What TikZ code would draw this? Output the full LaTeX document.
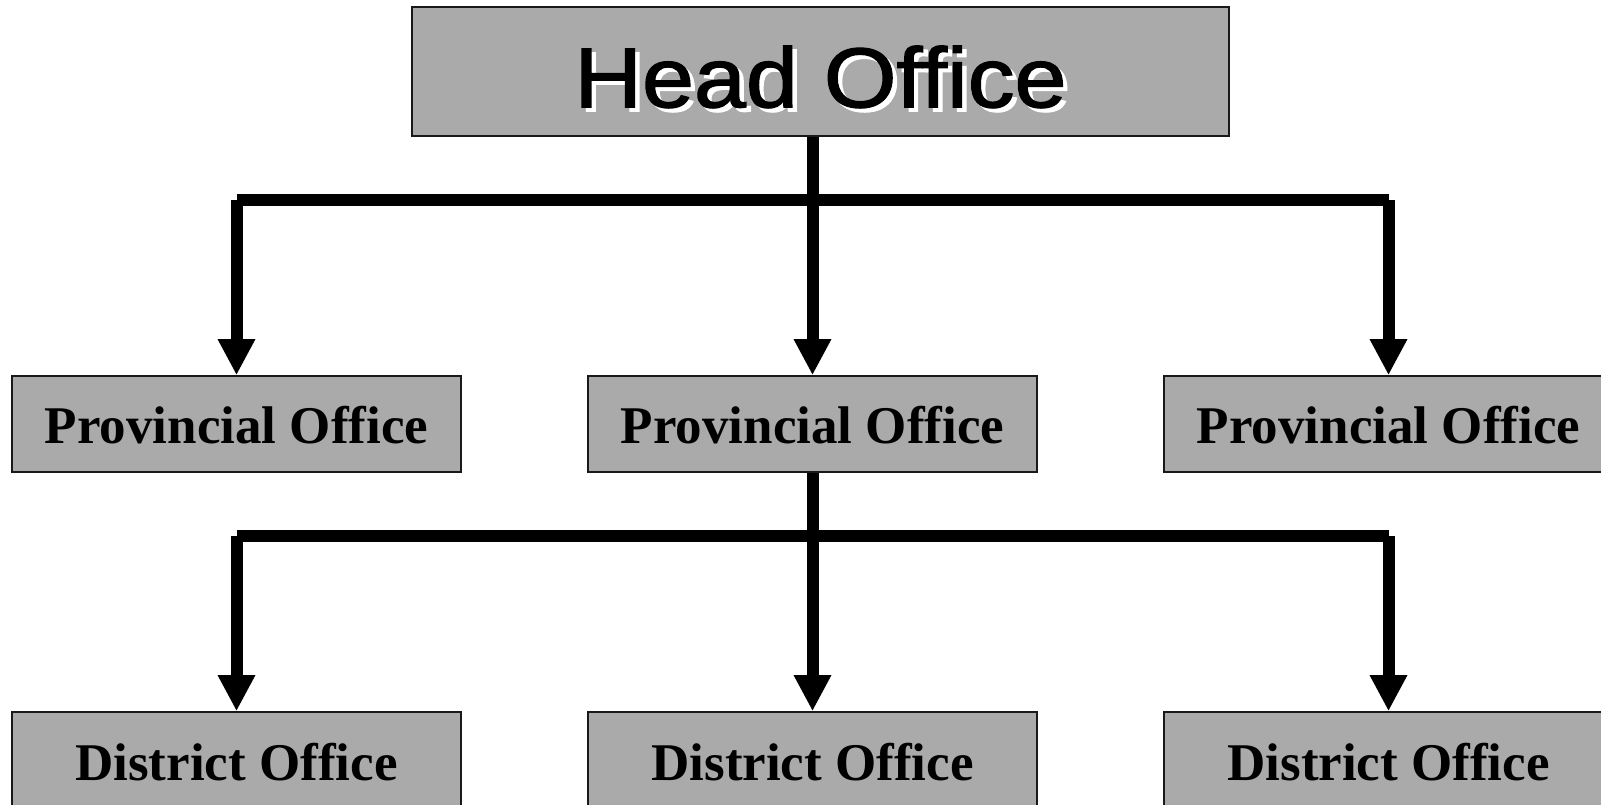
\documentclass[tikz,border=0pt]{standalone}
\usepackage{fontspec}
\setmainfont{Liberation Serif}
\newfontfamily\headfont[FakeBold=1.5]{Liberation Sans}
\usetikzlibrary{arrows.meta}
\definecolor{boxgray}{RGB}{170,170,170}
\definecolor{edgegray}{RGB}{25,25,25}
\tikzset{
  office/.style={draw=edgegray, line width=1.6pt, fill=boxgray, inner sep=0pt,
    minimum width=449pt, minimum height=96pt, text depth=0pt,
    font=\fontsize{53}{60}\selectfont\bfseries},
  headbox/.style={draw=edgegray, line width=2pt, fill=boxgray, inner sep=0pt,
    minimum width=817pt, minimum height=129pt, text height=71.6pt, text depth=0pt,
    font=\headfont\fontsize{85}{90}\selectfont},
  bar/.style={line width=12pt, line cap=butt, draw=black},
  arr/.style={bar, -{Triangle[length=36pt,width=35pt]}}
}
\begin{document}
\begin{tikzpicture}[x=1pt,y=-1pt]
\useasboundingbox (0,0) rectangle (1601,805);
\node[headbox] (head) at (820.5,71.5)
  {\scalebox{1.1}[1]{\makebox[0pt][l]{\hspace{4pt}\raisebox{-4pt}{\color{white}Head Office}}Head Office}};
\node[office, text height=38pt] (p1) at (236.5,424) {Provincial Office};
\node[office, text height=38pt] (p2) at (812.5,424) {Provincial Office};
\node[office, text height=38pt] (p3) at (1388.5,424) {Provincial Office};
\node[office, text height=40pt] (d1) at (236.5,760) {District Office};
\node[office, text height=40pt] (d2) at (812.5,760) {District Office};
\node[office, text height=40pt] (d3) at (1388.5,760) {District Office};
\coordinate (j1) at (812.5,200);
\coordinate (j2) at (812.5,536);
% level 1
\draw[bar] (p1 |- j1) -- (p3 |- j1);
\draw[arr] (p2 |- head.south) -- (p2.north);
\draw[arr] (p1 |- j1) -- (p1.north);
\draw[arr] (p3 |- j1) -- (p3.north);
% level 2
\draw[bar] (d1 |- j2) -- (d3 |- j2);
\draw[arr] (p2.south) -- (d2.north);
\draw[arr] (d1 |- j2) -- (d1.north);
\draw[arr] (d3 |- j2) -- (d3.north);
\end{tikzpicture}
\end{document}
